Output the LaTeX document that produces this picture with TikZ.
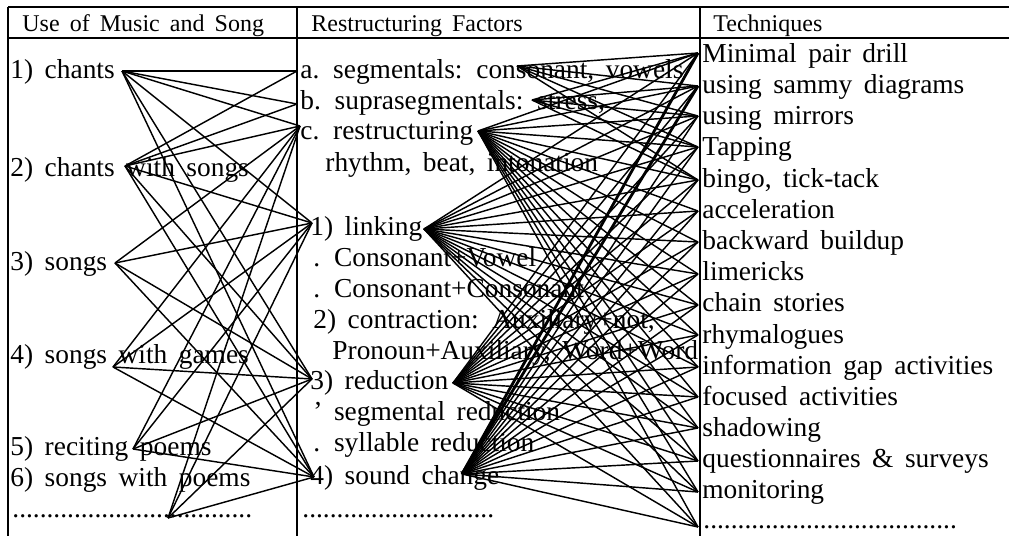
\documentclass[tikz,border=0pt]{standalone}
\usepackage{fontspec}
\setmainfont{Liberation Serif}
\newcommand\widespaces{\spaceskip 0.42em\relax}
\begin{document}
\begin{tikzpicture}[x=0.5pt,y=-0.5pt,
  txt/.style={inner sep=0pt, anchor=base west, font=\fontsize{13.7}{16}\selectfont\widespaces},
  hdr/.style={inner sep=0pt, anchor=base west, font=\fontsize{12.0}{15}\selectfont\widespaces},
  rule/.style={line width=0.75pt},
  link/.style={line width=0.72pt},
  boldlink/.style={line width=1.4pt}]
\useasboundingbox (0,0) rectangle (1009,536);
% table rules
\draw[rule] (8,7) -- (1009,7);
\draw[rule] (8,38) -- (1009,38);
\draw[rule] (8,7) -- (8,536);
\draw[rule] (297,7) -- (297,536);
\draw[rule] (700,7) -- (700,536);
% headers
\node[hdr] (h1) at (22,31) {Use of Music and Song};
\node[hdr] (h2) at (311,31) {Restructuring Factors};
\node[hdr] (h3) at (713,31) {Techniques};
% left column
\node[txt] (l1) at (10,78) {1) chants};
\node[txt] (l2) at (10,176) {2) chants with songs};
\node[txt] (l3) at (10,270) {3) songs};
\node[txt] (l4) at (10,363) {4) songs with games};
\node[txt] (l5) at (10,455) {5) reciting poems};
\node[txt] (l6) at (10,486) {6) songs with poems};
\node[txt] (l7) at (12,517) {...................................};
% middle column
\node[txt] (ma) at (300,78) {a. segmentals: consonant, vowels};
\node[txt] (mb) at (300,109) {b. suprasegmentals: stress,};
\node[txt] (mc) at (300,139) {c. restructuring};
\node[txt] (mc2) at (325,171) {rhythm, beat, intonation};
\node[txt] (m1) at (310,235) {1) linking};
\node[txt] (m1a) at (313,266) {. Consonant+Vowel};
\node[txt] (m1b) at (313,297) {. Consonant+Consonant};
\node[txt] (m2) at (313,328) {2) contraction: Auxiliary+not,};
\node[txt] (m2a) at (332,359) {Pronoun+Auxiliary, Word+Word};
\node[txt] (m3) at (310,389) {3) reduction};
\node[txt] (m3a) at (313,420) {’ segmental reduction};
\node[txt] (m3b) at (313,451) {. syllable reduction};
\node[txt] (m4) at (310,484) {4) sound change};
\node[txt] (m5) at (302,517) {............................};
% right column
\node[txt] (t1) at (702,62) {Minimal pair drill};
\node[txt] (t2) at (702,93) {using sammy diagrams};
\node[txt] (t3) at (702,124) {using mirrors};
\node[txt] (t4) at (702,155) {Tapping};
\node[txt] (t5) at (702,187) {bingo, tick-tack};
\node[txt] (t6) at (702,218) {acceleration};
\node[txt] (t7) at (702,249) {backward buildup};
\node[txt] (t8) at (702,280) {limericks};
\node[txt] (t9) at (702,311) {chain stories};
\node[txt] (t10) at (702,343) {rhymalogues};
\node[txt] (t11) at (702,374) {information gap activities};
\node[txt] (t12) at (702,405) {focused activities};
\node[txt] (t13) at (702,436) {shadowing};
\node[txt] (t14) at (702,467) {questionnaires \& surveys};
\node[txt] (t15) at (702,498) {monitoring};
\node[txt] (t16) at (703,528) {.....................................};
% anchor points
\coordinate (L1) at (122,71);
\coordinate (L2) at (125,166);
\coordinate (L3) at (115,263);
\coordinate (L4) at (113,367);
\coordinate (L5) at (133,449);
\coordinate (L6) at (168,518);
\coordinate (Ma) at (297,71);
\coordinate (Mb) at (297,104);
\coordinate (Mc) at (300,126);
\coordinate (M1) at (312,223);
\coordinate (M3) at (312,379);
\coordinate (M4) at (314,477);
\coordinate (Ra) at (517,66);
\coordinate (Rb) at (532,100);
\coordinate (Rc) at (478,131);
\coordinate (R1) at (424,229);
\coordinate (R3) at (453,383);
\coordinate (R4) at (462,474);
\coordinate (T1) at (698,53);
\coordinate (T2) at (698,86);
\coordinate (T3) at (698,116);
\coordinate (T4) at (698,147);
\coordinate (T5) at (698,180);
\coordinate (T6) at (698,211);
\coordinate (T7) at (698,242);
\coordinate (T8) at (698,274);
\coordinate (T9) at (698,305);
\coordinate (T10) at (698,335);
\coordinate (T11) at (698,367);
\coordinate (T12) at (698,397);
\coordinate (T13) at (698,428);
\coordinate (T14) at (698,461);
\coordinate (T15) at (698,492);
\coordinate (T16) at (698,527);
% left to middle connectors
\foreach \l in {L1,L2}{
  \draw[link] (\l) -- (Ma);
  \draw[link] (\l) -- (Mb);
}
\foreach \l in {L1,L2,L3,L4,L5,L6}{
  \foreach \m in {Mc,M1,M3,M4}{
    \draw[link] (\l) -- (\m);
  }
}
% middle to right connectors
\foreach \r in {Rc,R1,R3,R4}{
  \foreach \t in {T1,T2,T3,T4,T5,T6,T7,T8,T9,T10,T11,T12,T13,T14,T15,T16}{
    \draw[link] (\r) -- (\t);
  }
}
\foreach \t in {T1,T2,T3,T4,T5}{
  \draw[link] (Ra) -- (\t);
  \draw[link] (Rb) -- (\t);
}
\draw[boldlink] (R4) -- (T1);
\draw[boldlink] (R4) -- (T2);
\end{tikzpicture}
\end{document}
